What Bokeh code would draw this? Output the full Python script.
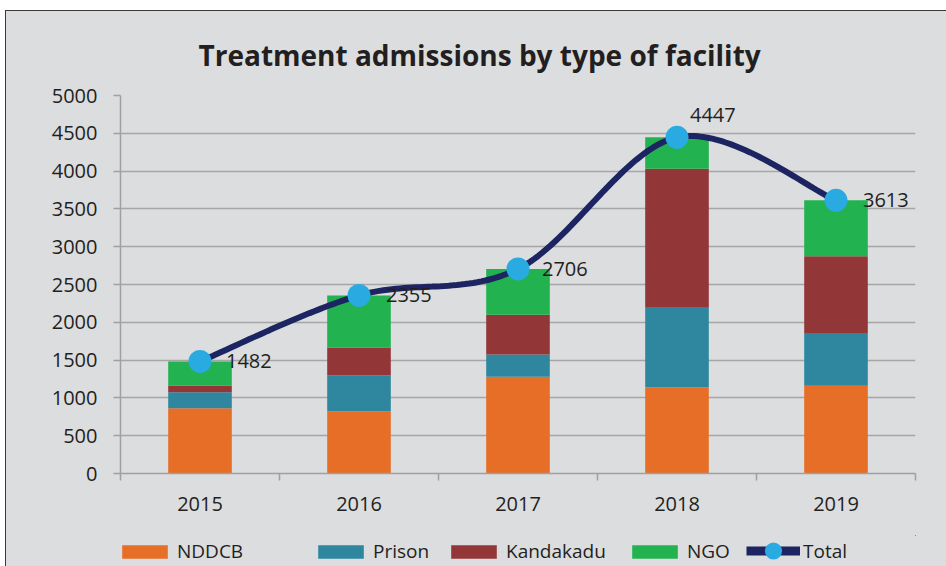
import numpy as np
from bokeh.plotting import figure
from bokeh.layouts import column
from bokeh.models import ColumnDataSource, FixedTicker, Legend, LegendItem, Range1d
from bokeh.embed import file_html
from bokeh.resources import INLINE
from bokeh.core.properties import value

# ---- data ----
years = ["2015", "2016", "2017", "2018", "2019"]
nddcb = [864, 824, 1279, 1142, 1160]
prison = [211, 472, 295, 1050, 688]
kandakadu = [85, 371, 525, 1838, 1027]
ngo = [322, 688, 607, 417, 738]
total = [1482, 2355, 2706, 4447, 3613]
y_ticks = list(range(0, 5001, 500))
series = ["NDDCB", "Prison", "Kandakadu", "NGO"]

# ---- styles ----
colors = ["#E66E27", "#2E879E", "#933638", "#22B24F"]
navy = "#1C2461"
marker_blue = "#29ABE2"
bg = "#DCDDDF"
grid = "#A6A6A6"
txt = "#231F20"
ax_col = "#A0A0A0"
label_dx = [26, 27, 24, 13, 27]
label_dy = [0, 0, 0, -22, 0]

xs = [i + 0.5 for i in range(len(years))]


def smooth(xv, yv, n=40):
    px = [xv[0]] + list(xv) + [xv[-1]]
    py = [yv[0]] + list(yv) + [yv[-1]]
    ox, oy = [], []
    t = np.linspace(0, 1, n)
    for i in range(1, len(px) - 2):
        bx = [px[i], px[i] + (px[i + 1] - px[i - 1]) / 6, px[i + 1] - (px[i + 2] - px[i]) / 6, px[i + 1]]
        by = [py[i], py[i] + (py[i + 1] - py[i - 1]) / 6, py[i + 1] - (py[i + 2] - py[i]) / 6, py[i + 1]]
        for arr, b in ((ox, bx), (oy, by)):
            arr.extend((1 - t) ** 3 * b[0] + 3 * (1 - t) ** 2 * t * b[1] + 3 * (1 - t) * t ** 2 * b[2] + t ** 3 * b[3])
    return ox, oy


p = figure(width=940, height=524, x_range=Range1d(0, 5), y_range=Range1d(0, 5000),
           output_backend="svg", toolbar_location=None,
           min_border_left=114, min_border_right=31, min_border_top=84, min_border_bottom=62,
           background_fill_color=None, border_fill_color=bg, outline_line_color=None)

src = ColumnDataSource(dict(x=xs, NDDCB=nddcb, Prison=prison, Kandakadu=kandakadu, NGO=ngo))
bars = p.vbar_stack(series, x="x", width=0.4, color=colors, line_color=None, source=src)

cx, cy = smooth(xs, total)
p.line(cx, cy, line_color=navy, line_width=6)
p.scatter(xs, total, size=23, fill_color=marker_blue, line_color=None)

lsrc = ColumnDataSource(dict(x=xs, y=total, t=[str(v) for v in total], dx=label_dx, dy=label_dy))
p.text(x="x", y="y", text="t", x_offset="dx", y_offset="dy", source=lsrc,
       text_baseline="middle", text_align="left", text_font=value("Open Sans"),
       text_font_size="20px", text_color=txt)

# title
p.title.text = "Treatment admissions by type of facility"
p.title.text_font = "Open Sans"
p.title.text_font_style = "bold"
p.title.text_font_size = "28px"
p.title.text_color = txt
p.title.align = "left"
p.title.offset = 78
p.title.standoff = 43

# axes
p.yaxis.ticker = FixedTicker(ticks=y_ticks, minor_ticks=[])
p.yaxis.major_tick_out = 7
p.yaxis.major_tick_in = 0
p.yaxis.minor_tick_line_color = None
p.yaxis.axis_line_color = ax_col
p.yaxis.axis_line_width = 1.5
p.yaxis.major_tick_line_color = ax_col
p.yaxis.major_tick_line_width = 1.5
p.yaxis.major_label_standoff = 16
p.yaxis.major_label_text_font = "Open Sans"
p.yaxis.major_label_text_font_size = "20px"
p.yaxis.major_label_text_color = txt

p.xaxis.ticker = FixedTicker(ticks=xs, minor_ticks=list(range(len(years) + 1)))
p.xaxis.major_label_overrides = {x: y for x, y in zip(xs, years)}
p.xaxis.major_tick_out = 0
p.xaxis.major_tick_in = 0
p.xaxis.minor_tick_out = 7
p.xaxis.minor_tick_in = 0
p.xaxis.minor_tick_line_color = ax_col
p.xaxis.minor_tick_line_width = 1.5
p.xaxis.axis_line_color = ax_col
p.xaxis.axis_line_width = 1.5
p.xaxis.major_label_standoff = 16
p.xaxis.major_label_text_font = "Open Sans"
p.xaxis.major_label_text_font_size = "20px"
p.xaxis.major_label_text_color = txt

p.xgrid.visible = False
p.ygrid.ticker = FixedTicker(ticks=y_ticks)
p.ygrid.grid_line_color = grid
p.ygrid.grid_line_width = 1.5

# ---- legend strip (separate small figure; its frame is aligned with the chart's) ----
# its ranges are set far from the data so the proxy glyphs only show in the legend
lf = figure(width=940, height=31, x_range=Range1d(-20, -19), y_range=Range1d(-20, -19),
            output_backend="svg", toolbar_location=None, x_axis_type=None, y_axis_type=None,
            min_border=0, background_fill_color=None, border_fill_color=bg, outline_line_color=None)
lf.xgrid.visible = False
lf.ygrid.visible = False

leg_common = dict(orientation="horizontal", padding=0, margin=0, spacing=0,
                  background_fill_alpha=0, border_line_color=None,
                  label_text_font="Open Sans", label_text_font_size="19px",
                  label_text_color=txt, label_height=26)
leg_x = [-4, 192, 325, 506]
for c, name, vals, lx in zip(colors, series, [nddcb, prison, kandakadu, ngo], leg_x):
    proxy = lf.vbar(x=xs, top=vals, width=0.4, fill_color=c, line_color=None)
    leg = Legend(items=[LegendItem(label=name, renderers=[proxy])], location=(lx, 2),
                 glyph_width=57, glyph_height=17, label_standoff=4, **leg_common)
    lf.add_layout(leg)

lp = lf.line(x=xs, y=total, line_color=navy, line_width=9)
sp = lf.scatter(x=xs, y=total, size=17, fill_color=marker_blue, line_color=None)
tleg = Legend(items=[LegendItem(label="Total", renderers=[lp, sp])], location=(626, -6),
              glyph_width=54, glyph_height=43, label_standoff=3, **leg_common)
lf.add_layout(tleg)

layout = column(p, lf, spacing=0,
                styles={"margin-left": "5px", "margin-top": "10px", "background-color": bg,
                        "border-left": "1px solid #3a3a3a", "border-top": "1px solid #3a3a3a"})

open("out.html", "w").write(file_html(layout, INLINE))
